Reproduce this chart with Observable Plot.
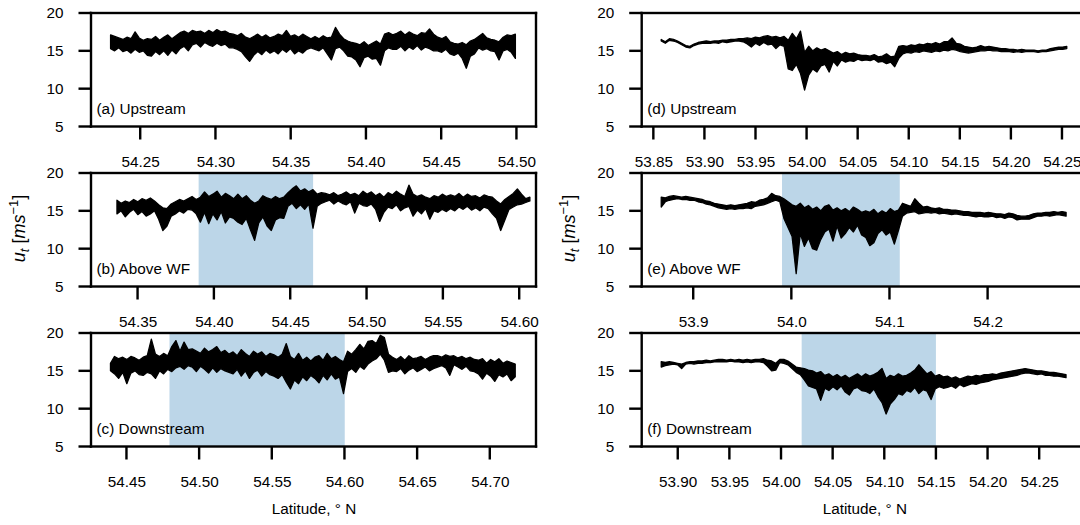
<!DOCTYPE html>
<html>
<head>
<meta charset="utf-8">
<script src="https://cdn.jsdelivr.net/npm/d3@7"></script>
<script src="https://cdn.jsdelivr.net/npm/@observablehq/plot@0.6"></script>
<style>
  html, body { margin: 0; padding: 0; background: #fff; overflow: hidden; }
  #fig { position: relative; width: 1080px; height: 525px; overflow: hidden; }
  #fig svg { position: absolute; }
</style>
</head>
<body>
<div id="fig"></div>
<script>
// Along-track wind speed u_t (m/s) against latitude for six flight legs.
// Each leg is stored as per-bin minimum / maximum of u_t (min-max decimation).

const yTicks = [5, 10, 15, 20];

// x-axis tick values of each panel
const ticksA = [54.25, 54.30, 54.35, 54.40, 54.45, 54.50];
const ticksB = [54.35, 54.40, 54.45, 54.50, 54.55, 54.60];
const ticksC = [54.45, 54.50, 54.55, 54.60, 54.65, 54.70];
const ticksD = [53.85, 53.90, 53.95, 54.00, 54.05, 54.10, 54.15, 54.20, 54.25];
const ticksE = [53.9, 54.0, 54.1, 54.2];
const ticksF = [53.90, 53.95, 54.00, 54.05, 54.10, 54.15, 54.20, 54.25];

// latitude span of each panel's x-axis
const domA = [54.2173, 54.513];
const domB = [54.3195, 54.611];
const domC = [54.4256, 54.7318];
const domD = [53.8386, 54.2745];
const domE = [53.8475, 54.3013];
const domF = [53.8651, 54.2963];

// first and last latitude of each leg
const latA = [54.2303, 54.4993];
const latB = [54.3365, 54.6070];
const latC = [54.4390, 54.7175];
const latD = [53.8577, 54.2547];
const latE = [53.8674, 54.2800];
const latF = [53.8840, 54.2760];

// wind-farm sections (shaded)
const shadeB = [54.390, 54.465];
const shadeC = [54.4796, 54.6002];
const shadeE = [53.9905, 54.1105];
const shadeF = [54.020, 54.150];

// per-bin max (hi) and min (lo) of u_t, bins evenly spaced along each leg
const hiA = [
  17.1, 16.9, 16.7, 16.5, 16.8, 16.6, 17.5, 16.7, 16.4, 16.6,
  16.5, 16.9, 16.4, 16.8, 17.1, 16.6, 17.0, 17.4, 17.6, 17.3,
  17.7, 17.5, 17.6, 17.3, 17.7, 17.4, 17.8, 17.5, 17.6, 17.3,
  17.2, 17.0, 17.3, 16.8, 16.6, 16.9, 17.2, 16.8, 17.1, 16.7,
  16.9, 17.2, 17.0, 17.7, 16.9, 17.1, 16.8, 17.2, 16.9, 16.6,
  16.9, 16.6, 17.0, 16.7, 16.8, 18.1, 17.2, 16.6, 16.3, 16.1,
  16.0, 15.8, 16.2, 15.7, 16.0, 16.3, 15.9, 17.2, 17.4, 17.1,
  17.3, 17.6, 17.1, 17.5, 17.2, 17.0, 17.4, 17.3, 17.9, 17.2,
  16.8, 16.6, 16.9, 16.2, 16.0, 15.9, 16.1, 15.8, 16.3, 16.5,
  16.9, 17.3, 16.7, 16.5, 16.4, 16.2, 16.8, 17.1, 17.0, 17.2
];
const loA = [
  15.3, 15.0, 15.4, 14.9, 15.1, 14.7, 15.2, 14.8, 15.0, 14.4,
  14.3, 14.9, 14.5, 15.0, 14.4, 15.1, 14.6, 15.3, 15.6, 15.0,
  15.8, 16.0, 15.5, 16.1, 15.8, 15.6, 16.0, 15.7, 15.9, 15.4,
  15.4, 15.2, 14.9, 14.2, 13.6, 14.4, 14.9, 14.5, 15.1, 14.7,
  15.0, 14.6, 15.2, 14.8, 15.3, 14.6, 15.0, 14.7, 15.2, 15.4,
  15.2, 15.0, 15.4, 14.6, 13.8, 15.3, 15.5, 15.0, 14.3, 14.2,
  13.8, 12.9, 14.1, 14.3, 13.9, 14.0, 13.1, 15.0, 15.4, 15.2,
  15.2, 15.6, 15.0, 15.5, 15.2, 15.7, 15.1, 15.5, 15.3, 15.0,
  15.0, 14.8, 15.2, 14.6, 14.4, 14.7, 14.0, 12.7, 14.3, 14.6,
  15.4, 15.1, 15.3, 15.0, 14.9, 13.8, 15.0, 15.2, 14.8, 14.0
];
const hiB = [
  16.4, 16.0, 16.3, 16.1, 16.5, 16.2, 16.6, 16.4, 16.7, 16.3,
  15.8, 15.4, 15.3, 15.9, 16.2, 16.5, 16.3, 16.6, 16.9, 16.5,
  16.8, 17.5, 16.9, 17.2, 17.6, 16.8, 17.3, 17.0, 16.6, 17.2,
  16.6, 17.0, 16.4, 16.0, 16.3, 17.0, 16.7, 16.5, 16.9, 16.6,
  16.8, 17.4, 17.9, 18.3, 17.6, 17.9, 17.5, 17.8, 17.2, 17.4,
  17.3, 17.1, 17.4, 17.0, 17.2, 17.5, 17.1, 17.3, 17.0, 17.6,
  17.2, 17.5, 17.0, 17.3, 16.8, 17.4, 17.1, 17.6, 17.2, 16.9,
  18.4, 17.2, 16.9, 17.1, 16.8, 16.6, 17.0, 16.8, 17.2, 16.9,
  17.1, 16.9, 17.3, 16.8, 17.2, 16.9, 17.0, 16.7, 17.1, 16.9,
  16.8, 16.3, 15.9, 16.5, 16.9, 17.3, 17.9, 17.2, 16.6, 16.8
];
const loB = [
  14.6, 15.0, 14.2, 14.8, 15.2, 14.5, 14.9, 14.3, 14.6, 15.0,
  13.9, 12.4, 13.0, 14.3, 14.6, 15.0, 14.7, 15.2, 15.1, 14.6,
  13.5, 14.8, 13.3, 14.6, 13.8, 14.9, 13.4, 14.2, 14.0, 13.5,
  13.2, 14.0, 12.5, 11.1, 13.4, 14.2, 13.0, 12.4, 13.8, 14.1,
  14.0, 15.6, 16.0, 15.3, 15.8, 15.2, 15.9, 12.7, 15.6, 16.0,
  16.2, 16.4, 15.9, 16.3, 16.0, 15.8, 16.2, 14.7, 16.0, 15.7,
  15.6, 15.9, 15.2, 13.6, 14.8, 15.5, 15.3, 15.8, 15.0, 15.4,
  15.6, 14.3, 15.1, 14.6, 15.3, 13.9, 15.0, 14.8, 15.2, 14.9,
  15.3, 15.0, 15.5, 15.2, 15.6, 15.1, 15.4, 15.0, 15.5, 15.3,
  14.6, 14.0, 12.4, 13.8, 15.2, 15.5, 15.8, 15.9, 16.1, 16.3
];
const hiC = [
  16.0, 16.9, 16.6, 16.8, 16.5, 16.9, 16.7, 16.4, 16.8, 17.0,
  19.2, 17.2, 16.9, 17.3, 17.0, 18.2, 19.0, 17.6, 18.8, 17.8,
  17.9, 17.6, 17.3, 18.0, 17.5, 17.8, 18.2, 17.4, 17.7, 17.2,
  17.5, 17.0, 17.8, 17.3, 16.9, 17.6, 17.2, 17.5, 16.9, 17.3,
  17.1, 16.8, 17.2, 18.6, 16.9, 16.5, 17.3, 16.4, 16.8, 16.3,
  16.8, 17.0, 16.4, 17.3, 16.6, 16.9, 16.5, 16.2, 17.6, 17.2,
  17.8, 18.5, 17.9, 18.9, 19.0, 18.6, 19.7, 19.4, 17.2, 16.8,
  16.5, 16.9, 16.4, 17.0, 16.6, 16.7, 16.9, 16.5, 16.8, 17.0,
  17.0, 16.8, 17.1, 16.9, 17.0, 16.7, 16.9, 16.6, 16.8, 16.5,
  16.4, 16.6, 16.0, 16.5, 16.2, 16.6, 16.0, 16.3, 16.1, 15.9
];
const loC = [
  15.0, 14.6, 14.0, 14.8, 13.3, 14.7, 15.0, 14.5, 14.4, 14.8,
  14.6, 14.0, 15.0, 14.6, 15.2, 14.9, 15.4, 15.6, 15.2, 15.7,
  15.5, 14.9, 15.6, 15.2, 14.7, 15.4, 14.8, 15.3, 15.0, 14.8,
  14.6, 15.2, 14.3, 15.0, 14.0, 14.8, 15.1, 14.3, 14.9, 14.5,
  14.3, 14.0, 14.5, 13.5, 12.6, 13.8, 13.3, 14.2, 13.7, 14.4,
  14.0, 13.4, 14.4, 13.8, 14.6, 13.9, 14.2, 12.0, 14.9, 15.3,
  14.8, 15.6, 15.2, 15.9, 16.3, 16.6, 17.2, 16.4, 14.8, 15.0,
  14.9, 15.3, 14.6, 15.1, 15.4, 14.9, 15.2, 15.5, 15.0, 15.3,
  15.5, 15.7, 15.4, 14.4, 15.8, 15.5, 15.2, 15.6, 15.0, 14.9,
  14.6, 13.9, 14.7, 14.3, 13.6, 14.5, 14.2, 14.6, 13.7, 14.2
];
const hiD = [
  16.5, 16.2, 16.6, 16.5, 16.3, 16.0, 15.7, 15.6, 15.9, 16.1,
  16.2, 16.3, 16.2, 16.3, 16.3, 16.4, 16.4, 16.5, 16.5, 16.6,
  16.6, 16.7, 16.6, 16.8, 16.7, 16.9, 17.0, 16.8, 16.9, 16.7,
  16.9, 16.4, 17.3, 16.6, 17.6, 14.8, 15.6, 15.0, 15.4, 15.1,
  15.3, 15.0, 14.7, 14.9, 14.5, 14.8, 14.6, 14.7, 14.5, 14.4,
  14.4, 14.3, 14.5, 14.2, 14.3, 14.6, 14.2, 14.3, 15.6, 15.7,
  15.6, 15.8, 15.7, 15.9, 15.8, 16.0, 15.9, 16.1, 15.9, 16.2,
  16.2, 16.7, 16.0, 15.9, 15.6, 15.5, 15.4, 15.5, 15.7, 15.5,
  15.6, 15.5, 15.4, 15.3, 15.3, 15.2, 15.2, 15.1, 15.2, 15.1,
  15.1, 15.1, 15.0, 15.1, 15.1, 15.3, 15.4, 15.5, 15.5, 15.6
];
const loD = [
  16.3, 16.0, 16.4, 16.3, 16.1, 15.8, 15.5, 15.4, 15.7, 15.9,
  16.0, 16.0, 16.0, 16.1, 16.0, 16.2, 16.1, 16.2, 16.3, 16.3,
  16.2, 15.9, 15.5, 16.0, 15.7, 16.1, 15.8, 15.9, 15.3, 15.8,
  15.6, 12.6, 12.4, 13.2, 12.0, 9.8, 11.8, 12.6, 12.2, 13.0,
  13.2, 12.2, 13.6, 13.0, 13.8, 13.5, 13.7, 13.6, 13.9, 13.7,
  13.8, 13.7, 13.9, 13.5, 13.6, 13.3, 13.5, 12.9, 14.0, 14.6,
  14.8, 14.7, 14.9, 14.8, 15.0, 14.9, 14.8, 15.0, 14.9, 15.1,
  15.0, 15.2, 15.1, 14.9, 14.8, 14.7, 14.8, 14.9, 15.0, 15.0,
  15.1, 15.0, 15.0, 14.9, 14.9, 14.9, 14.8, 14.9, 14.8, 14.9,
  14.9, 14.9, 14.8, 14.9, 14.9, 15.0, 15.1, 15.2, 15.2, 15.3
];
const hiE = [
  16.8, 16.7, 16.9, 17.0, 16.9, 16.8, 16.9, 16.8, 16.7, 16.6,
  16.5, 16.3, 16.2, 16.0, 15.9, 15.8, 15.7, 15.8, 15.7, 15.8,
  15.9, 16.0, 16.2, 16.1, 16.4, 16.5, 16.7, 17.3, 17.0, 16.9,
  16.6, 16.2, 15.8, 15.6, 16.0, 15.4, 15.7, 15.2, 15.5, 15.0,
  15.6, 15.8, 15.1, 15.4, 15.0, 15.3, 14.9, 15.5, 15.2, 14.8,
  15.0, 14.8, 15.2, 14.6, 15.0, 14.7, 15.3, 14.9, 15.1, 16.0,
  15.8, 15.6, 16.6, 16.0, 15.5, 15.6, 15.4, 15.3, 15.4, 15.2,
  15.2, 15.1, 15.1, 15.0, 14.9, 14.9, 14.8, 14.8, 14.8, 14.7,
  14.8, 14.7, 14.6, 14.6, 14.5, 14.7, 14.6, 14.4, 14.3, 14.3,
  14.4, 14.6, 14.7, 14.7, 14.8, 14.8, 14.9, 14.8, 14.9, 14.8
];
const loE = [
  15.5, 16.2, 16.4, 16.5, 16.6, 16.5, 16.5, 16.4, 16.4, 16.2,
  16.1, 15.9, 15.8, 15.6, 15.4, 15.3, 15.2, 15.3, 15.2, 15.3,
  15.3, 15.4, 15.3, 15.6, 15.7, 15.8, 16.0, 16.2, 16.4, 16.2,
  14.0, 12.8, 11.6, 6.7, 12.0, 10.3, 11.4, 10.0, 9.8, 11.2,
  12.2, 12.6, 11.0, 13.0, 11.4, 12.0, 12.8, 12.2, 13.1, 11.8,
  11.5, 10.4, 10.8, 12.0, 12.5, 11.8, 12.2, 10.6, 12.4, 14.3,
  14.7, 14.8, 14.9, 14.6, 14.7, 14.8, 14.7, 14.8, 14.6, 14.7,
  14.6, 14.5, 14.6, 14.5, 14.4, 14.4, 14.3, 14.2, 14.3, 14.2,
  14.2, 14.3, 14.1, 14.2, 14.0, 14.2, 14.1, 13.8, 13.9, 13.9,
  13.9, 14.1, 14.3, 14.3, 14.4, 14.3, 14.4, 14.5, 14.4, 14.3
];
const hiF = [
  16.2, 16.1, 16.2, 16.1, 16.0, 15.9, 16.1, 16.2, 16.2, 16.3,
  16.3, 16.4, 16.3, 16.4, 16.5, 16.5, 16.4, 16.5, 16.4, 16.5,
  16.4, 16.5, 16.4, 16.5, 16.5, 16.6, 16.4, 16.3, 16.0, 16.5,
  16.5, 16.3, 15.9, 15.5, 15.4, 15.3, 15.1, 15.0, 14.7, 14.9,
  14.4, 14.6, 14.2, 14.5, 14.1, 14.4, 14.0, 14.3, 14.6, 14.2,
  14.6, 14.3, 14.5, 14.8, 15.3, 14.0, 14.4, 14.2, 14.6, 14.3,
  14.4, 14.7, 15.1, 15.8, 15.2, 14.6, 14.9, 14.3, 14.5, 14.2,
  14.3, 14.0, 14.2, 13.9, 14.1, 14.3, 14.2, 14.4, 14.3, 14.5,
  14.5, 14.6, 14.5, 14.7, 14.8, 14.9, 15.0, 15.1, 15.2, 15.3,
  15.2, 15.1, 15.0, 15.0, 14.9, 14.8, 14.8, 14.7, 14.6, 14.5
];
const loF = [
  15.5, 15.7, 15.8, 15.9, 15.8, 15.3, 15.9, 16.0, 15.9, 16.0,
  16.0, 16.1, 16.1, 16.2, 16.2, 16.2, 16.2, 16.3, 16.2, 16.2,
  16.1, 16.2, 16.1, 16.2, 16.2, 16.1, 15.6, 15.0, 15.1, 16.1,
  16.0, 15.8, 15.3, 14.8, 14.5, 13.8, 13.0, 12.8, 12.6, 11.1,
  12.7, 12.4, 12.9, 12.5, 13.0, 12.2, 11.8, 12.6, 12.8, 12.4,
  12.3, 12.0, 12.6, 11.6, 10.8, 9.3, 10.6, 11.2, 12.0, 11.8,
  12.4, 12.2, 12.8, 12.0, 12.5, 12.3, 11.2, 12.6, 12.9, 12.7,
  12.8, 13.0, 12.7, 13.2, 12.9, 13.1, 13.3, 13.2, 13.4, 13.5,
  13.6, 13.8, 13.9, 14.0, 14.1, 14.2, 14.3, 14.4, 14.6, 14.7,
  14.7, 14.6, 14.5, 14.6, 14.4, 14.4, 14.3, 14.3, 14.2, 14.1
];

const panels = [
  {col: 0, row: 0, label: "(a) Upstream",   lat: latA, hi: hiA, lo: loA, domain: domA, ticks: ticksA, fmt: ".2f", shade: null},
  {col: 0, row: 1, label: "(b) Above WF",   lat: latB, hi: hiB, lo: loB, domain: domB, ticks: ticksB, fmt: ".2f", shade: shadeB},
  {col: 0, row: 2, label: "(c) Downstream", lat: latC, hi: hiC, lo: loC, domain: domC, ticks: ticksC, fmt: ".2f", shade: shadeC},
  {col: 1, row: 0, label: "(d) Upstream",   lat: latD, hi: hiD, lo: loD, domain: domD, ticks: ticksD, fmt: ".2f", shade: null},
  {col: 1, row: 1, label: "(e) Above WF",   lat: latE, hi: hiE, lo: loE, domain: domE, ticks: ticksE, fmt: ".1f", shade: shadeE},
  {col: 1, row: 2, label: "(f) Downstream", lat: latF, hi: hiF, lo: loF, domain: domF, ticks: ticksF, fmt: ".2f", shade: shadeF}
];

// column geometry: svg offset, width and margins (the right column runs past the page edge)
const columns = [
  {left: 0,   width: 540, marginLeft: 91,    marginRight: 4},
  {left: 540, width: 547, marginLeft: 101.7, marginRight: 0}
];
const frameH = 113.5, marginTop = 10;
const rowTop = r => 12.5 + 160 * r;
const font = "'Liberation Sans', Arial, Helvetica, sans-serif";
const lineW = 2.4, xTickLen = 13, yTickLen = 12.5;

const fig = document.getElementById("fig");

function place(svg, p) {
  svg.style.left = columns[p.col].left + "px";
  svg.style.top = (rowTop(p.row) - marginTop) + "px";
  fig.appendChild(svg);
}

// maps a value through a Plot scale object
function scaleFn(s) {
  return typeof s.apply === "function" ? v => s.apply(v) : d3.scaleLinear(s.domain, s.range);
}

for (const p of panels) {
  const c = columns[p.col];
  const n = p.hi.length;
  const rows = p.hi.map((hi, i) => ({lat: p.lat[0] + i * (p.lat[1] - p.lat[0]) / (n - 1), hi, lo: p.lo[i]}));
  const marginBottom = p.row === 2 ? 80 : 45;

  const svg = Plot.plot({
    width: c.width,
    height: marginTop + frameH + marginBottom,
    marginLeft: c.marginLeft,
    marginRight: c.marginRight,
    marginTop,
    marginBottom,
    style: {background: "transparent", fontFamily: font, fontSize: "15.3px", color: "black", overflow: "visible"},
    x: {domain: p.domain},
    y: {domain: [5, 20]},
    marks: [
      p.shade ? Plot.rect([p.shade], {x1: d => d[0], x2: d => d[1], y1: () => 5, y2: () => 20, fill: "#bcd6e8"}) : null,
      Plot.areaY(rows, {x: "lat", y1: "lo", y2: "hi", fill: "black", stroke: "black", strokeWidth: 1.3, strokeLinejoin: "round"}),
      Plot.axisX({ticks: p.ticks, tickFormat: d3.format(p.fmt), tickSize: 0, tickPadding: 29.5, label: null}),
      Plot.axisY({ticks: yTicks, tickSize: 0, tickPadding: 28, label: null}),
      Plot.text([p.label], {frameAnchor: "bottom-left", dx: 5, dy: -13, textAnchor: "start", fill: "black"}),
      p.row === 2 ? Plot.text(["Latitude, \u00B0 N"], {frameAnchor: "bottom", dy: 67, fill: "black"}) : null
    ]
  });

  // frame and outward tick marks, drawn as filled bars positioned by the plot's scales
  const sx = scaleFn(svg.scale("x"));
  const sy = scaleFn(svg.scale("y"));
  const left = sx(p.domain[0]), right = sx(p.domain[1]);
  const top = sy(20), bottom = sy(5);
  const g = d3.select(svg).append("g").attr("fill", "black").attr("stroke", "none");
  const bar = (x, y, w, h) => g.append("rect").attr("x", x).attr("y", y).attr("width", w).attr("height", h);
  bar(left - lineW / 2, top - lineW / 2, right - left + lineW, lineW);
  bar(left - lineW / 2, bottom - lineW / 2, right - left + lineW, lineW);
  bar(left - lineW / 2, top - lineW / 2, lineW, bottom - top + lineW);
  bar(right - lineW / 2, top - lineW / 2, lineW, bottom - top + lineW);
  for (const t of p.ticks) bar(sx(t) - lineW / 2, bottom, lineW, xTickLen);
  for (const t of yTicks) bar(left - yTickLen, sy(t) - lineW / 2, yTickLen, lineW);

  // y-axis title on the middle row: u_t [ms^-1]
  if (p.row === 1) {
    const t = d3.select(svg).append("text")
      .attr("transform", `translate(${p.col === 0 ? 25 : 35},${228 - (rowTop(1) - marginTop)}) rotate(-90)`)
      .attr("text-anchor", "middle")
      .attr("fill", "black")
      .attr("font-family", font)
      .attr("font-size", 18);
    t.append("tspan").attr("font-style", "italic").text("u");
    t.append("tspan").attr("font-style", "italic").attr("font-size", 13).attr("dy", 4).text("t");
    t.append("tspan").attr("dy", -4).text("\u00A0[");
    t.append("tspan").attr("font-style", "italic").text("ms");
    t.append("tspan").attr("font-size", 13).attr("dy", -7).text("\u22121");
    t.append("tspan").attr("dy", 7).text("]");
  }

  place(svg, p);
}
</script>
</body>
</html>
